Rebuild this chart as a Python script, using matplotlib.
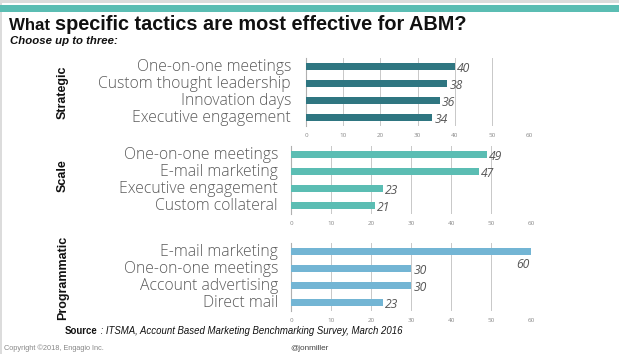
import matplotlib
matplotlib.use("Agg")
import matplotlib.pyplot as plt
from matplotlib.patches import Rectangle

W, H = 619, 354
DPI = 100

# ---- data ----
groups = ["Strategic", "Scale", "Programmatic"]
strategic_labels = ["One-on-one meetings", "Custom thought leadership", "Innovation days", "Executive engagement"]
strategic_values = [40, 38, 36, 34]
scale_labels = ["One-on-one meetings", "E-mail marketing", "Executive engagement", "Custom collateral"]
scale_values = [49, 47, 23, 21]
prog_labels = ["E-mail marketing", "One-on-one meetings", "Account advertising", "Direct mail"]
prog_values = [60, 30, 30, 23]
tick_values = [0, 10, 20, 30, 40, 50, 60]

colors = ["#2f7681", "#5bbdb3", "#73b5d4"]

fig = plt.figure(figsize=(W / DPI, H / DPI), dpi=DPI)
fig.patch.set_facecolor("white")

def fx(x):
    return x / W

def fy(y):
    return 1 - y / H

# border + top band
fig.add_artist(Rectangle((0, fy(3)), 1, 3 / H, transform=fig.transFigure, color="#dcdcdc", lw=0))
fig.add_artist(Rectangle((0, 0), 2 / W, 1, transform=fig.transFigure, color="#dcdcdc", lw=0))
fig.add_artist(Rectangle((0, fy(12)), 1, 7 / H, transform=fig.transFigure, color="#5bbdb3", lw=0))

LABEL_FONT = "Open Sans"
grey = "#555555"

panels = [
    (strategic_labels, strategic_values, colors[0], 306, 529, 58, 291, 92, "Strategic"),
    (scale_labels, scale_values, colors[1], 291, 531, 146, 278, 176, "Scale"),
    (prog_labels, prog_values, colors[2], 291, 531, 243, 278, 278, "Programmatic"),
]

for labels, vals, col, x0, x60, top, lab_right, gy, gname in panels:
    h = 68
    ax = fig.add_axes([fx(x0), fy(top + h), (x60 - x0) / W, h / H])
    ys = list(range(len(vals)))
    ax.barh(ys, vals, height=0.36, color=col, zorder=3)
    ax.set_xlim(0, 60)
    ax.set_ylim(len(vals) - 0.5, -0.5)
    ax.set_yticks([])
    ax.set_xticks(tick_values)
    ax.set_xticklabels([str(t) for t in tick_values], fontsize=4.5, color="#888888", family=LABEL_FONT)
    ax.tick_params(axis="x", length=0, pad=5)
    for s in ["top", "right", "bottom"]:
        ax.spines[s].set_visible(False)
    ax.spines["left"].set_color("#b0b0b0")
    ax.spines["left"].set_linewidth(0.8)
    for t in tick_values[1:]:
        ax.axvline(t, color="#c8c8c8", lw=0.7, zorder=1)
    ax.patch.set_alpha(0)
    for y, v in zip(ys, vals):
        if v >= 60:
            ax.text(v - 0.3, y + 0.78, str(v), ha="right", va="center", fontsize=8.7,
                    style="italic", color=grey, family=LABEL_FONT)
        else:
            ax.text(v + 0.6, y + 0.12, str(v), ha="left", va="center", fontsize=8.7,
                    style="italic", color=grey, family=LABEL_FONT)
    for i, lab in enumerate(labels):
        ypx = top + 8.5 + 17 * i
        fig.text(fx(lab_right), fy(ypx + 0.5), lab, ha="right", va="center", fontsize=11.3,
                 color="#5a5a5a", family=LABEL_FONT, fontweight="light")
    fig.text(fx(63), fy(gy), gname, rotation=90, ha="center", va="center", fontsize=9,
             fontweight="bold", family="Liberation Sans", color="#111111")

# title
renderer = fig.canvas.get_renderer()
t1 = fig.text(fx(9), fy(30), "What ", fontsize=12.2, fontweight="bold", family="Liberation Sans",
              color="#111111", va="baseline", ha="left")
bb = t1.get_window_extent(renderer)
fig.text(bb.x1 / W, fy(30), "specific tactics are most effective for ABM?", fontsize=14.3,
         fontweight="bold", family="Liberation Sans", color="#111111", va="baseline", ha="left")
fig.text(fx(10), fy(41), "Choose up to three:", fontsize=8.2, fontweight="bold", style="italic",
         family="Liberation Sans", color="#111111", va="center", ha="left")

# source
s1 = fig.text(fx(65), fy(331), "Source", fontsize=6.9, fontweight="bold", family="Liberation Sans",
              color="#111111", va="center", ha="left")
bb = s1.get_window_extent(renderer)
fig.text(bb.x1 / W, fy(331), " : ITSMA, Account Based Marketing Benchmarking Survey, March 2016",
         fontsize=6.9, style="italic", family="Liberation Sans", color="#111111", va="center", ha="left")

fig.text(fx(4), fy(348), "Copyright \u00a92018, Engagio Inc.", fontsize=5.3, color="#888888",
         family="Liberation Sans", va="center", ha="left")
fig.text(fx(290), fy(348), "@jonmiller", fontsize=5.9, color="#444444",
         family="Liberation Sans", va="center", ha="left")

fig.savefig("out.png", dpi=DPI)
